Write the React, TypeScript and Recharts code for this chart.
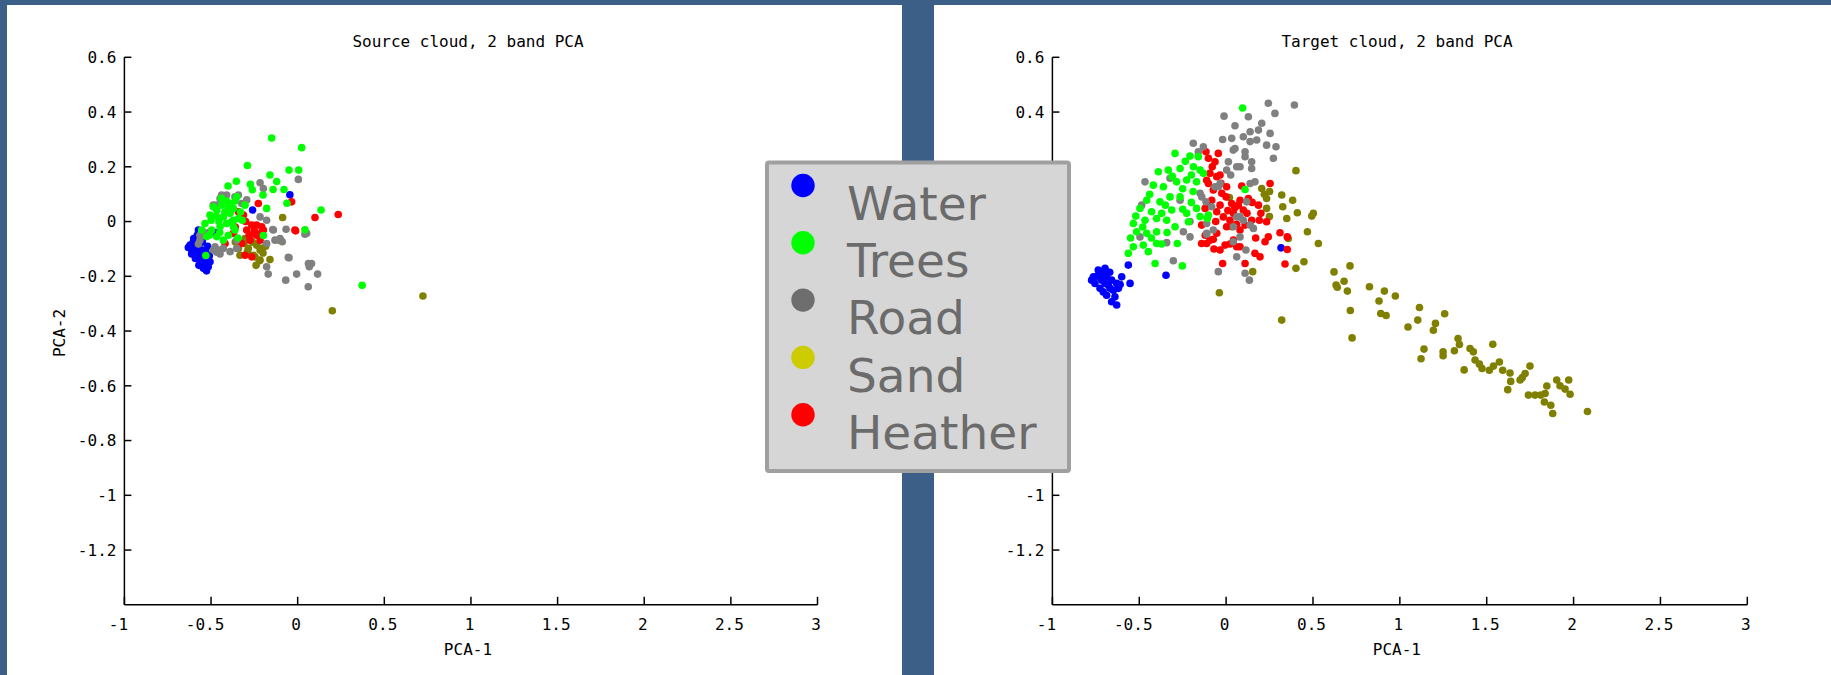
import React from "react";
import { ScatterChart, Scatter, XAxis, YAxis } from "recharts";

type Pt = [number, number];

const srcWater: Pt[] = [
  [-0.621, -0.086], [-0.602, -0.074], [-0.573, -0.092], [-0.583, -0.117], [-0.564, -0.135],
  [-0.535, -0.153], [-0.516, -0.165], [-0.525, -0.141], [-0.554, -0.104], [-0.592, -0.098],
  [-0.573, -0.031], [-0.611, -0.104], [-0.544, -0.171], [-0.506, -0.147], [-0.631, -0.095],
  [-0.526, -0.18], [-0.6, -0.062], [-0.58, -0.05], [-0.55, -0.075], [-0.53, -0.11],
  [-0.51, -0.125], [-0.57, -0.16], [-0.59, -0.135], [-0.612, -0.118], [-0.538, -0.165],
  [-0.52, -0.09], [-0.56, -0.118], [-0.045, 0.098], [-0.26, 0.042], [-0.48, -0.04],
];
const srcTrees: Pt[] = [
  [-0.15, 0.305], [0.023, 0.27], [-0.29, 0.205], [-0.16, 0.17], [-0.05, 0.188], [0.006, 0.188],
  [-0.121, 0.146], [-0.354, 0.147], [-0.402, 0.13], [-0.273, 0.136], [-0.262, 0.116],
  [-0.142, 0.117], [-0.079, 0.117], [-0.2, 0.097], [-0.062, 0.067], [-0.179, 0.048],
  [0.135, 0.042], [0.042, -0.03], [-0.198, -0.051], [0.372, -0.233], [-0.352, 0.09],
  [-0.53, -0.124], [-0.304, 0.06], [-0.32, 0.005], [-0.39, 0.066], [-0.535, -0.007],
  [-0.506, 0.024], [-0.487, 0.054], [-0.467, 0.042], [-0.439, 0.06], [-0.429, 0.017],
  [-0.496, -0.031], [-0.525, -0.055], [-0.467, -0.055], [-0.448, -0.019], [-0.41, -0.007],
  [-0.39, 0.03], [-0.371, 0.048], [-0.342, 0.011], [-0.362, -0.031], [-0.4, -0.05],
  [-0.429, -0.068], [-0.554, -0.031], [-0.455, 0.0], [-0.47, 0.02], [-0.42, 0.035],
  [-0.38, 0.0], [-0.5, 0.005], [-0.45, -0.04], [-0.41, 0.075], [-0.36, 0.075], [-0.33, 0.035],
  [-0.44, 0.085], [-0.345, -0.06], [-0.51, -0.05], [-0.37, -0.02], [-0.4, 0.05], [-0.371, 0.005],
];
const srcRoad: Pt[] = [
  [-0.217, 0.142], [0.004, 0.154], [-0.198, 0.121], [-0.362, 0.09], [-0.439, 0.097],
  [-0.467, 0.06], [-0.323, 0.066], [-0.506, -0.037], [-0.564, -0.05], [-0.477, -0.092],
  [-0.458, -0.104], [-0.352, -0.098], [-0.14, -0.031], [-0.067, -0.028], [-0.102, -0.062],
  [-0.179, -0.08], [-0.179, -0.165], [-0.054, -0.131], [0.052, -0.043], [0.062, -0.153],
  [-0.39, -0.11], [-0.144, -0.029], [0.042, -0.046], [-0.089, -0.074], [-0.05, -0.132],
  [0.08, -0.153], [0.067, -0.165], [0.115, -0.192], [-0.006, -0.192], [-0.17, -0.192],
  [-0.069, -0.214], [0.061, -0.238], [-0.448, 0.084], [-0.41, 0.097], [-0.342, 0.097],
  [-0.294, 0.079], [-0.487, 0.06], [-0.544, -0.037], [-0.564, -0.068], [-0.487, -0.104],
  [-0.429, -0.098], [-0.352, -0.068], [-0.217, 0.017], [-0.179, 0.005], [-0.131, -0.068],
  [-0.467, -0.112], [-0.448, -0.118], [-0.573, -0.082],
];
const srcSand: Pt[] = [
  [-0.087, 0.015], [-0.106, -0.068], [-0.217, -0.104], [-0.237, -0.086], [-0.285, -0.098],
  [-0.333, -0.123], [-0.342, -0.098], [-0.275, -0.05], [-0.304, -0.062], [-0.217, -0.141],
  [-0.16, -0.139], [-0.246, -0.129], [-0.102, -0.065], [-0.221, -0.143], [-0.256, -0.123],
  [-0.208, -0.098], [0.723, -0.272], [0.2, -0.326], [-0.31, -0.08], [-0.26, -0.075],
  [-0.2, -0.115], [-0.185, -0.09], [-0.36, -0.075], [-0.29, -0.11], [-0.24, -0.16],
];
const srcHeather: Pt[] = [
  [-0.227, 0.066], [-0.035, 0.072], [0.1, 0.015], [-0.016, -0.031], [-0.342, 0.036],
  [-0.265, -0.013], [-0.237, -0.013], [-0.208, -0.019], [-0.294, -0.031], [-0.275, -0.068],
  [-0.217, -0.068], [-0.237, -0.05], [-0.371, -0.043], [-0.419, -0.08], [-0.323, -0.08],
  [-0.304, -0.123], [-0.265, -0.129], [-0.198, -0.031], [-0.313, 0.024], [0.234, 0.026],
  [-0.012, -0.034], [-0.3, 0.0], [-0.25, -0.035], [-0.22, -0.045], [-0.28, -0.05], [-0.36, -0.02],
];

const tgtWater: Pt[] = [
  [-0.697, -0.171], [-0.726, -0.19], [-0.774, -0.214], [-0.755, -0.226], [-0.716, -0.214],
  [-0.688, -0.202], [-0.659, -0.214], [-0.63, -0.226], [-0.601, -0.202], [-0.62, -0.244],
  [-0.668, -0.244], [-0.707, -0.257], [-0.726, -0.244], [-0.688, -0.269], [-0.659, -0.293],
  [-0.63, -0.305], [-0.553, -0.226], [-0.563, -0.159], [-0.346, -0.196], [0.316, -0.096],
  [-0.764, -0.202], [-0.736, -0.177], [-0.678, -0.232], [-0.649, -0.251], [-0.64, -0.275],
  [-0.697, -0.226], [-0.745, -0.2], [-0.7, -0.19], [-0.67, -0.185], [-0.61, -0.23],
];
const tgtTrees: Pt[] = [
  [0.095, 0.415], [-0.294, 0.249], [-0.208, 0.239], [-0.16, 0.237], [-0.39, 0.182],
  [-0.333, 0.188], [-0.265, 0.194], [-0.188, 0.2], [-0.15, 0.188], [-0.419, 0.133],
  [-0.361, 0.127], [-0.285, 0.145], [-0.227, 0.152], [-0.17, 0.145], [-0.323, 0.09],
  [-0.381, 0.072], [-0.265, 0.09], [-0.457, 0.078], [-0.496, 0.048], [-0.429, 0.036],
  [-0.371, 0.03], [-0.313, 0.042], [-0.227, 0.03], [-0.17, 0.048], [-0.534, -0.007],
  [-0.467, 0.005], [-0.4, 0.011], [-0.342, 0.005], [-0.294, -0.019], [-0.515, -0.037],
  [-0.457, -0.043], [-0.4, -0.037], [-0.534, -0.092], [-0.563, -0.116], [-0.477, -0.086],
  [-0.448, -0.11], [-0.4, -0.08], [-0.371, -0.082], [-0.281, -0.08], [-0.409, -0.153],
  [-0.252, -0.162], [-0.217, -0.001], [0.109, 0.117], [-0.15, 0.018], [-0.102, 0.024],
  [-0.108, 0.011], [-0.131, 0.176], [-0.235, 0.22], [-0.2, 0.17], [-0.31, 0.165],
  [-0.25, 0.12], [-0.44, 0.1], [-0.35, 0.06], [-0.2, 0.07], [-0.52, 0.02], [-0.48, -0.02],
  [-0.43, -0.06], [-0.34, -0.04], [-0.25, 0.045], [-0.19, 0.11], [-0.55, -0.06],
];
const tgtRoad: Pt[] = [
  [0.243, 0.432], [0.393, 0.426], [-0.012, 0.385], [0.128, 0.383], [0.281, 0.395],
  [0.051, 0.35], [0.205, 0.359], [0.138, 0.328], [0.186, 0.334], [0.253, 0.322],
  [-0.02, 0.3], [0.032, 0.304], [0.099, 0.31], [0.138, 0.292], [0.176, 0.298],
  [0.233, 0.279], [0.287, 0.273], [0.041, 0.261], [0.109, 0.255], [0.272, 0.231],
  [0.013, 0.218], [0.08, 0.2], [0.147, 0.218], [0.147, 0.194], [0.026, 0.17],
  [0.138, 0.139], [0.166, 0.145], [0.118, 0.072], [-0.045, 0.127], [0.061, 0.017],
  [0.099, 0.005], [0.138, -0.013], [0.157, -0.025], [0.08, -0.056], [0.041, -0.074],
  [0.114, -0.104], [0.061, -0.129], [-0.112, -0.043], [-0.074, -0.031], [-0.045, -0.183],
  [0.109, -0.189], [0.134, -0.214], [-0.189, 0.286], [-0.131, 0.273], [-0.16, 0.255],
  [0.051, 0.267], [-0.467, 0.145], [-0.323, 0.158], [-0.486, 0.06], [-0.265, 0.078],
  [-0.208, 0.0], [-0.246, -0.037], [-0.208, -0.056], [-0.342, -0.077], [-0.304, -0.143],
  [-0.496, -0.056], [-0.112, -0.007], [-0.112, -0.046], [0.042, -0.019], [0.08, 0.017],
  [-0.083, 0.054], [-0.15, 0.103], [-0.064, 0.127], [0.003, 0.188], [0.061, 0.2],
  [0.109, 0.237], [-0.035, 0.139], [-0.14, 0.09], [-0.116, 0.072],
];
const tgtSand: Pt[] = [
  [0.402, 0.186], [0.205, 0.121], [0.233, 0.084], [0.32, 0.097], [0.383, 0.078],
  [0.326, 0.054], [0.41, 0.032], [0.502, 0.03], [0.349, 0.011], [0.249, 0.018],
  [0.233, 0.048], [0.468, -0.037], [0.531, -0.08], [0.358, -0.062], [0.448, -0.147],
  [0.402, -0.171], [0.153, -0.183], [-0.039, -0.26], [0.032, -0.019], [0.019, 0.088],
  [0.493, 0.02], [0.32, -0.36], [0.25, 0.11], [0.22, 0.1], [0.621, -0.184],
  [0.713, -0.162], [0.633, -0.232], [0.679, -0.218], [0.698, -0.254], [0.825, -0.238],
  [0.911, -0.254], [0.974, -0.272], [0.88, -0.29], [0.715, -0.325], [0.89, -0.336],
  [0.921, -0.343], [0.725, -0.425], [1.113, -0.314], [1.103, -0.36], [1.047, -0.385],
  [1.258, -0.337], [1.205, -0.372], [1.193, -0.397], [1.139, -0.466], [1.122, -0.501],
  [1.249, -0.476], [1.249, -0.49], [1.335, -0.427], [1.343, -0.449], [1.314, -0.472],
  [1.37, -0.542], [1.404, -0.464], [1.423, -0.476], [1.433, -0.506], [1.458, -0.521],
  [1.473, -0.537], [1.535, -0.448], [1.515, -0.543], [1.539, -0.528], [1.573, -0.513],
  [1.592, -0.543], [1.634, -0.553], [1.638, -0.584], [1.621, -0.614], [1.692, -0.579],
  [1.721, -0.555], [1.749, -0.528], [1.705, -0.57], [1.74, -0.634], [1.778, -0.634],
  [1.811, -0.634], [1.846, -0.601], [1.836, -0.628], [1.832, -0.659], [1.869, -0.671],
  [1.88, -0.701], [1.903, -0.579], [1.922, -0.6], [1.951, -0.612], [1.972, -0.579],
  [1.98, -0.631], [2.08, -0.694], [0.64, -0.24],
];
const tgtHeather: Pt[] = [
  [-0.116, 0.255], [-0.045, 0.249], [-0.064, 0.218], [-0.093, 0.176], [-0.054, 0.164],
  [-0.102, 0.139], [-0.074, 0.115], [-0.025, 0.103], [-0.083, 0.078], [-0.035, 0.06],
  [0.032, 0.066], [0.08, 0.078], [-0.121, 0.048], [-0.054, 0.036], [-0.016, 0.017],
  [0.042, 0.03], [0.003, -0.019], [0.08, -0.031], [-0.054, -0.043], [-0.093, -0.068],
  [-0.141, -0.08], [-0.006, -0.086], [0.042, -0.068], [0.08, -0.092], [0.109, -0.153],
  [-0.02, -0.153], [0.003, 0.127], [-0.102, 0.231], [-0.035, 0.17], [-0.112, 0.151],
  [-0.102, 0.06], [0.07, 0.06], [0.099, 0.042], [0.186, 0.06], [0.253, 0.139],
  [0.09, 0.13], [0.128, 0.084], [0.022, 0.005], [0.109, -0.013], [0.147, 0.005],
  [0.191, 0.005], [0.233, -0.001], [0.243, -0.056], [0.224, -0.074], [0.31, -0.041],
  [0.352, -0.056], [0.352, -0.102], [-0.035, -0.104], [-0.112, -0.08], [-0.074, -0.065],
  [0.022, -0.082], [0.061, -0.092], [0.166, -0.116], [0.195, -0.129], [0.339, -0.155],
  [-0.141, -0.013], [0.0, 0.09], [0.05, 0.05], [0.12, 0.03], [-0.06, 0.0], [0.01, 0.04],
  [0.15, 0.07], [-0.08, 0.2], [-0.03, 0.14], [0.06, -0.01], [0.2, 0.03], [-0.12, -0.05],
  [-0.07, -0.1], [0.17, -0.06],
];

const xTicks = [-1, -0.5, 0, 0.5, 1, 1.5, 2, 2.5, 3];
const yTicks = [0.6, 0.4, 0.2, 0, -0.2, -0.4, -0.6, -0.8, -1, -1.2];

const legendLabels = ["Water", "Trees", "Road", "Sand", "Heather"];
const legendColors = ["#0000ff", "#00ff00", "#6e6e6e", "#cccc00", "#ff0000"];

const monoFont = "'DejaVu Sans Mono', monospace";

const toXY = (pts: Pt[]) => pts.map(([x, y]) => ({ x, y }));

type Series = { name: string; color: string; data: Pt[] };

const sourceSeries: Series[] = [
  { name: "Water", color: "#0000ff", data: srcWater },
  { name: "Sand", color: "#808000", data: srcSand },
  { name: "Heather", color: "#ff0000", data: srcHeather },
  { name: "Road", color: "#808080", data: srcRoad },
  { name: "Trees", color: "#00ff00", data: srcTrees },
];
const targetSeries: Series[] = [
  { name: "Water", color: "#0000ff", data: tgtWater },
  { name: "Sand", color: "#808000", data: tgtSand },
  { name: "Heather", color: "#ff0000", data: tgtHeather },
  { name: "Road", color: "#808080", data: tgtRoad },
  { name: "Trees", color: "#00ff00", data: tgtTrees },
];

const XTick = (props: any) => {
  const { x, y, payload } = props;
  const v = payload.value as number;
  const dx = v < 0 ? -6 : -1.5;
  return (
    <g>
      <line x1={x} x2={x} y1={y} y2={y - 8} stroke="#000" strokeWidth={1.5} />
      <text x={x + dx} y={y + 25} textAnchor="middle" fontFamily={monoFont} fontSize={16} fill="#000">
        {String(v)}
      </text>
    </g>
  );
};

const YTick = (props: any) => {
  const { x, y, payload } = props;
  return (
    <g>
      <line x1={x} x2={x + 7} y1={y} y2={y} stroke="#000" strokeWidth={1.5} />
      <text x={x - 8} y={y} dy="0.36em" textAnchor="end" fontFamily={monoFont} fontSize={16} fill="#000">
        {String(payload.value)}
      </text>
    </g>
  );
};

type CloudProps = {
  series: Series[];
  width: number;
  yAxisWidth: number;
  rightMargin: number;
  showYLabel: boolean;
};

function CloudChart({ series, width, yAxisWidth, rightMargin, showYLabel }: CloudProps) {
  const yLabelX = yAxisWidth - 65;
  const yLabel = showYLabel
    ? {
        content: () => (
          <text
            x={yLabelX}
            y={333}
            dy="0.36em"
            transform={`rotate(-90 ${yLabelX} 333)`}
            textAnchor="middle"
            fontFamily={monoFont}
            fontSize={16}
            fill="#000"
          >
            PCA-2
          </text>
        ),
      }
    : undefined;
  return (
    <ScatterChart width={width} height={675} margin={{ top: 57.3, right: rightMargin, bottom: 0, left: 0 }}>
      <XAxis
        type="number"
        dataKey="x"
        domain={[-1, 3]}
        ticks={xTicks}
        interval={0}
        height={70.2}
        tickSize={0}
        tickMargin={0}
        tickLine={false}
        tick={XTick}
        axisLine={{ stroke: "#000", strokeWidth: 1.5 }}
        allowDataOverflow
        label={{ value: "PCA-1", position: "insideBottom", offset: 20, dx: -3, fill: "#000", fontSize: 16, fontFamily: monoFont }}
      />
      <YAxis
        type="number"
        dataKey="y"
        domain={[-1.4, 0.6]}
        ticks={yTicks}
        interval={0}
        width={yAxisWidth}
        tickSize={0}
        tickMargin={0}
        tickLine={false}
        tick={YTick}
        axisLine={{ stroke: "#000", strokeWidth: 1.5 }}
        allowDataOverflow
        label={yLabel}
      />
      {series.map((s) => (
        <Scatter
          key={s.name}
          name={s.name}
          data={toXY(s.data)}
          fill={s.color}
          isAnimationActive={false}
          shape={(p: any) => <circle cx={p.cx} cy={p.cy} r={3.8} fill={s.color} />}
        />
      ))}
    </ScatterChart>
  );
}

export default function App() {
  return (
    <div style={{ position: "absolute", left: 0, top: 0, width: 1831, height: 675, background: "#3b5f87", overflow: "hidden" }}>
      <div style={{ position: "absolute", left: 7, top: 5, width: 895, height: 670, background: "#fff" }} />
      <div style={{ position: "absolute", left: 934, top: 5, width: 897, height: 670, background: "#fff" }} />
      <div style={{ position: "absolute", left: 0, top: 0 }}>
        <CloudChart series={sourceSeries} width={902} yAxisWidth={124.4} rightMargin={84.5} showYLabel />
      </div>
      <div style={{ position: "absolute", left: 911, top: 0 }}>
        {/* the right panel's PCA-2 label sits under the legend box in the original, so it is left out */}
        <CloudChart series={targetSeries} width={920} yAxisWidth={141.4} rightMargin={83.7} showYLabel={false} />
      </div>
      <svg width={1831} height={675} style={{ position: "absolute", left: 0, top: 0, pointerEvents: "none" }}>
        <text x={468} y={46.5} textAnchor="middle" fontFamily={monoFont} fontSize={16} fill="#000">
          Source cloud, 2 band PCA
        </text>
        <text x={1397} y={46.5} textAnchor="middle" fontFamily={monoFont} fontSize={16} fill="#000">
          Target cloud, 2 band PCA
        </text>
        <rect x={767} y={162.6} width={302} height={308.5} rx={2} fill="#d6d6d6" stroke="#a0a0a0" strokeWidth={4} />
        {legendLabels.map((label, i) => {
          const base = 219.7 + i * 57.3;
          return (
            <g key={label}>
              <circle cx={803} cy={base - 34.2} r={11.7} fill={legendColors[i]} />
              <text x={847} y={base} fontFamily="'DejaVu Sans', sans-serif" fontSize={47} fill="#6b6b6b">
                {label}
              </text>
            </g>
          );
        })}
      </svg>
    </div>
  );
}
